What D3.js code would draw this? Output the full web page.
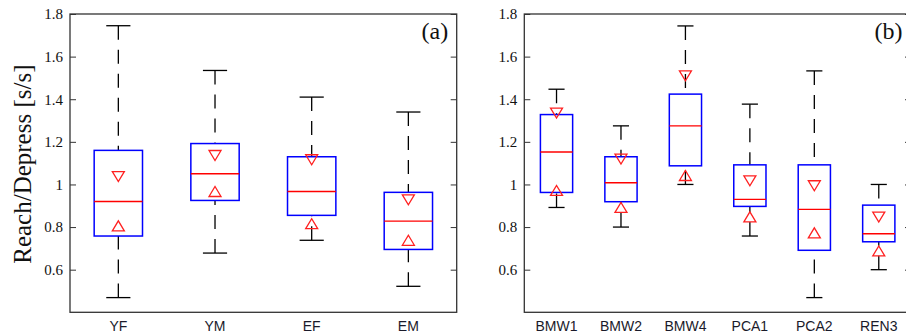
<!DOCTYPE html>
<html><head><meta charset="utf-8">
<script src="https://cdn.jsdelivr.net/npm/d3@7"></script>
<style>body{margin:0;background:#fff}svg{display:block}</style>
</head><body>
<script>
// ---- data ----
const yTicks = [0.6, 0.8, 1.0, 1.2, 1.4, 1.6, 1.8];

const catsA   = ["YF", "YM", "EF", "EM"];
const upperA  = [1.745, 1.535, 1.41, 1.34];
const q3A     = [1.16, 1.192, 1.13, 0.963];
const medA    = [0.92, 1.05, 0.967, 0.828];
const q1A     = [0.758, 0.925, 0.855, 0.695];
const lowerA  = [0.469, 0.678, 0.738, 0.522];
const notchHiA = [1.037, 1.136, 1.116, 0.928];
const notchLoA = [0.806, 0.967, 0.816, 0.738];

const catsB   = ["BMW1", "BMW2", "BMW4", "PCA1", "PCA2", "REN3"];
const upperB  = [1.447, 1.275, 1.744, 1.377, 1.533, 1.0];
const q3B     = [1.328, 1.13, 1.424, 1.092, 1.092, 0.903];
const medB    = [1.152, 1.008, 1.275, 0.93, 0.883, 0.769];
const q1B     = [0.9625, 0.919, 1.0875, 0.897, 0.691, 0.731];
const lowerB  = [0.892, 0.8, 1.0, 0.758, 0.469, 0.6];
const notchHiB = [1.335, 1.119, 1.51, 1.017, 0.994, 0.847];
const notchLoB = [0.972, 0.892, 1.042, 0.848, 0.773, 0.688];

// ---- drawing ----
const W = 906, H = 335;
const svg = d3.select("body").append("svg").attr("width", W).attr("height", H);
const plotTop = 14, plotBottom = 312.3;
const y = d3.scaleLinear().domain([0.4, 1.8]).range([plotBottom, plotTop]);

function panel(x0, x1, cats, upper, q3, med, q1, lower, nHi, nLo, tag, showYLabel) {
  const n = cats.length;
  const x = d3.scaleLinear().domain([0.5, n + 0.5]).range([x0, x1]);
  const g = svg.append("g");
  const unit = x(1) - x(0);

  // frame
  g.append("rect").attr("x", x0).attr("y", plotTop).attr("width", x1 - x0).attr("height", plotBottom - plotTop)
    .attr("fill", "none").attr("stroke", "#333").attr("stroke-width", 1.3);

  // left axis
  const ax = g.append("g").attr("transform", `translate(${x0},0)`)
    .call(d3.axisLeft(y).tickValues(yTicks).tickSizeInner(-6).tickSizeOuter(0).tickPadding(7)
      .tickFormat(d => Math.abs(d - 1) < 1e-9 ? "1" : d3.format(".1f")(d)));
  ax.select(".domain").remove();
  ax.selectAll("line").attr("stroke", "#333");
  ax.selectAll("text").attr("font-family", "'Liberation Serif', 'Times New Roman', serif")
    .attr("font-size", 15).attr("fill", "#111");

  // right axis ticks
  const axr = g.append("g").attr("transform", `translate(${x1},0)`)
    .call(d3.axisRight(y).tickValues(yTicks).tickSizeInner(-6).tickSizeOuter(0).tickFormat(""));
  axr.select(".domain").remove();
  axr.selectAll("line").attr("stroke", "#333");

  const idx = d3.range(n);
  const bw = 0.5 * unit, cw = 0.25 * unit;

  // whiskers (dashed)
  g.selectAll(".wu").data(idx).enter().append("line")
    .attr("x1", i => x(i + 1)).attr("x2", i => x(i + 1))
    .attr("y1", i => y(upper[i])).attr("y2", i => y(q3[i]))
    .attr("stroke", "#000").attr("stroke-width", 1.3).attr("stroke-dasharray", "14,10");
  g.selectAll(".wl").data(idx).enter().append("line")
    .attr("x1", i => x(i + 1)).attr("x2", i => x(i + 1))
    .attr("y1", i => y(lower[i])).attr("y2", i => y(q1[i]))
    .attr("stroke", "#000").attr("stroke-width", 1.3).attr("stroke-dasharray", "14,10");
  // caps
  [upper, lower].forEach(arr => {
    g.selectAll(null).data(idx).enter().append("line")
      .attr("x1", i => x(i + 1) - cw / 2).attr("x2", i => x(i + 1) + cw / 2)
      .attr("y1", i => y(arr[i])).attr("y2", i => y(arr[i]))
      .attr("stroke", "#000").attr("stroke-width", 1.3);
  });
  // boxes
  g.selectAll(".box").data(idx).enter().append("rect")
    .attr("x", i => x(i + 1) - bw / 2).attr("width", bw)
    .attr("y", i => y(q3[i])).attr("height", i => y(q1[i]) - y(q3[i]))
    .attr("fill", "none").attr("stroke", "#0000ff").attr("stroke-width", 1.5);
  // medians
  g.selectAll(".med").data(idx).enter().append("line")
    .attr("x1", i => x(i + 1) - bw / 2).attr("x2", i => x(i + 1) + bw / 2)
    .attr("y1", i => y(med[i])).attr("y2", i => y(med[i]))
    .attr("stroke", "#ff0000").attr("stroke-width", 1.4);
  // notch markers
  const tw = 6, th = 5;
  g.selectAll(".nhi").data(idx).enter().append("path")
    .attr("d", i => { const cx = x(i + 1), cy = y(nHi[i]);
      return `M${cx - tw},${cy - th}L${cx + tw},${cy - th}L${cx},${cy + th}Z`; })
    .attr("fill", "none").attr("stroke", "#ff2020").attr("stroke-width", 1.3);
  g.selectAll(".nlo").data(idx).enter().append("path")
    .attr("d", i => { const cx = x(i + 1), cy = y(nLo[i]);
      return `M${cx - tw},${cy + th}L${cx + tw},${cy + th}L${cx},${cy - th}Z`; })
    .attr("fill", "none").attr("stroke", "#ff2020").attr("stroke-width", 1.3);

  // category labels
  g.selectAll(".cat").data(idx).enter().append("text")
    .attr("x", i => x(i + 1)).attr("y", 331).attr("text-anchor", "middle")
    .attr("font-family", "'Liberation Sans', Arial, sans-serif").attr("font-size", 14)
    .attr("fill", "#1a1a2a").text(i => cats[i]);

  // panel tag
  g.append("text").attr("x", x1 - 8.5).attr("y", 39).attr("text-anchor", "end")
    .attr("font-family", "'Liberation Serif', 'Times New Roman', serif").attr("font-size", 24)
    .attr("fill", "#111").text(tag);

  if (showYLabel) {
    g.append("text").attr("transform", `translate(31,${(plotTop + plotBottom) / 2 + 1}) rotate(-90)`)
      .attr("text-anchor", "middle")
      .attr("font-family", "'Liberation Serif', 'Times New Roman', serif").attr("font-size", 25)
      .attr("fill", "#111").text("Reach/Depress [s/s]");
  }
}

panel(70, 456.7, catsA, upperA, q3A, medA, q1A, lowerA, notchHiA, notchLoA, "(a)", true);
panel(524.3, 911, catsB, upperB, q3B, medB, q1B, lowerB, notchHiB, notchLoB, "(b)", false);
</script>
</body></html>
